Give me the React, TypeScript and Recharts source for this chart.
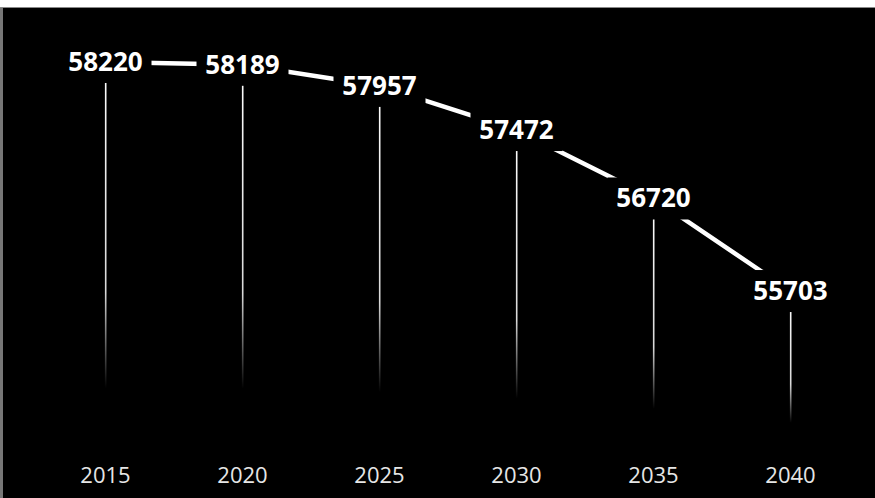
import { Bar, ComposedChart, LabelList, Line, XAxis, YAxis } from "recharts";

const years = ["2015", "2020", "2025", "2030", "2035", "2040"];
const population = [58220, 58189, 57957, 57472, 56720, 55703];

const chartData = years.map((year, i) => ({ year, value: population[i] }));

const FONT = "'Open Sans', 'DejaVu Sans', sans-serif";

// thin fading drop line under each point
const DropLine = (props: any) => {
  const { x, y, width, height } = props;
  if (height == null || height <= 0) return null;
  return (
    <rect
      x={x + width / 2 - 0.8}
      y={y}
      width={1.6}
      height={height}
      fill="url(#dropFade)"
    />
  );
};

// value label drawn on a black box that hides the line beneath it
const ValueLabel = (props: any) => {
  const { x, y, value } = props;
  return (
    <g>
      <rect x={x - 46} y={y - 21} width={92} height={42} fill="#000" />
      <text
        x={x}
        y={y + 9}
        textAnchor="middle"
        fill="#fff"
        fontFamily={FONT}
        fontWeight={700}
        fontSize={26}
      >
        {value}
      </text>
    </g>
  );
};

const YearTick = (props: any) => {
  const { x, y, payload } = props;
  return (
    <text
      x={x}
      y={y}
      dy={37}
      textAnchor="middle"
      fill="#e6e6e6"
      fontFamily={FONT}
      fontSize={22}
    >
      {payload.value}
    </text>
  );
};

export default function App() {
  return (
    <div
      style={{
        position: "absolute",
        top: 0,
        left: 0,
        width: 875,
        height: 498,
        background: "#000",
        overflow: "hidden",
      }}
    >
      <ComposedChart
        width={875}
        height={498}
        data={chartData}
        margin={{ top: 36.5, right: 16, bottom: 0, left: 37 }}
      >
        <defs>
          <linearGradient id="dropFade" x1="0" y1="0" x2="0" y2="1">
            <stop offset="0" stopColor="#fff" stopOpacity={1} />
            <stop offset="0.6" stopColor="#fff" stopOpacity={0.85} />
            <stop offset="0.85" stopColor="#fff" stopOpacity={0} />
          </linearGradient>
        </defs>
        <XAxis
          dataKey="year"
          axisLine={false}
          tickLine={false}
          tickSize={0}
          tickMargin={0}
          height={52}
          tick={<YearTick />}
          interval={0}
        />
        <YAxis hide domain={[54000, 58500]} />
        <Bar dataKey="value" shape={<DropLine />} isAnimationActive={false} />
        <Line
          type="linear"
          dataKey="value"
          stroke="#fff"
          strokeWidth={4.5}
          dot={false}
          activeDot={false}
          isAnimationActive={false}
        >
          <LabelList dataKey="value" content={<ValueLabel />} />
        </Line>
      </ComposedChart>
      <div
        style={{
          position: "absolute",
          top: 0,
          left: 0,
          width: 875,
          height: 7,
          background: "#fff",
          borderBottom: "1px solid #888",
        }}
      />
      <div
        style={{
          position: "absolute",
          top: 8,
          left: 0,
          width: 3,
          height: 490,
          background: "#777",
        }}
      />
    </div>
  );
}
